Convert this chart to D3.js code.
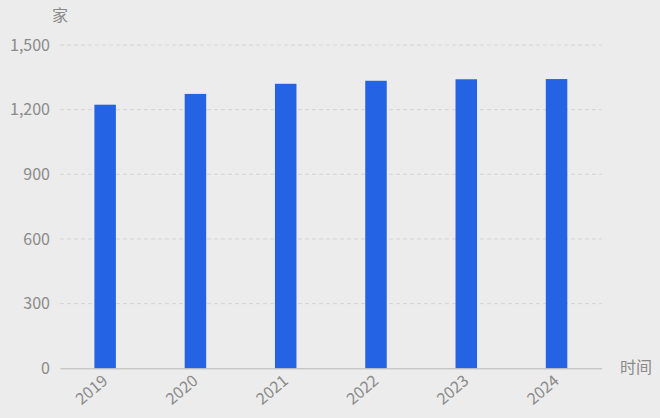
<!DOCTYPE html>
<html><head><meta charset="utf-8">
<script src="https://cdn.jsdelivr.net/npm/d3@7"></script>
<style>
html,body{margin:0;padding:0;background:#ececec;}
svg{display:block;font-family:"Noto Sans CJK SC","Noto Sans",sans-serif;}
</style></head>
<body><svg id="c" width="660" height="418"></svg>
<script>
const categories = ["2019","2020","2021","2022","2023","2024"];
const values = [1223, 1273, 1320, 1334, 1341, 1342];
const yTicks = [0, 300, 600, 900, 1200, 1500];
const yName = "家";
const xName = "时间";

const svg = d3.select("#c");
const m = {l:60, r:58.3, t:45, b:50};
const W = 660, H = 418;
const x = d3.scaleBand().domain(categories).range([m.l, W - m.r]).paddingInner(0).paddingOuter(0);
const y = d3.scaleLinear().domain([0, 1500]).range([368.3, 45]);
const txt = "#8a8a8a";
const fs = "16px";

// gridlines
svg.append("g").selectAll("line").data(yTicks.filter(d => d > 0)).join("line")
  .attr("x1", m.l).attr("x2", W - m.r)
  .attr("y1", d => y(d)).attr("y2", d => y(d))
  .attr("stroke", "#d4d4d4").attr("stroke-width", 1).attr("stroke-dasharray", "4,3");

// y labels
const yAxis = d3.axisLeft(y).tickValues(yTicks).tickSize(0).tickPadding(10).tickFormat(d3.format(","));
const ga = svg.append("g").attr("transform", `translate(${m.l},0)`).call(yAxis);
ga.select(".domain").remove();
ga.selectAll("text").attr("fill", txt).style("font-size", fs).style("font-family", "'Noto Sans CJK SC','Noto Sans',sans-serif");

// bars
const bw = 21.5;
svg.append("g").selectAll("rect").data(values).join("rect")
  .attr("x", (d, i) => x(categories[i]) + x.bandwidth() / 2 - bw / 2)
  .attr("width", bw)
  .attr("y", d => y(d))
  .attr("height", d => y(0) - y(d))
  .attr("fill", "#2563e5");

// x axis
const xAxis = d3.axisBottom(x).tickSize(0).tickPadding(0);
const gx = svg.append("g").attr("transform", `translate(0,${y(0)})`).call(xAxis);
gx.select(".domain").attr("stroke", "#b8b8b8").attr("stroke-width", 1);
gx.selectAll("text").attr("fill", txt).style("font-size", fs)
  .style("font-family", "'Noto Sans CJK SC','Noto Sans',sans-serif")
  .attr("text-anchor", "end").attr("dy", "0.35em").attr("y", 0)
  .attr("transform", "translate(0,10) rotate(-40)");

// axis names
svg.append("text").attr("x", 60).attr("y", 17).attr("text-anchor", "middle")
  .attr("dominant-baseline", "middle").attr("fill", txt).style("font-size", fs).text(yName);
svg.append("text").attr("x", 620).attr("y", 368.5).attr("dominant-baseline", "middle")
  .attr("fill", txt).style("font-size", fs).text(xName);
</script></body></html>
